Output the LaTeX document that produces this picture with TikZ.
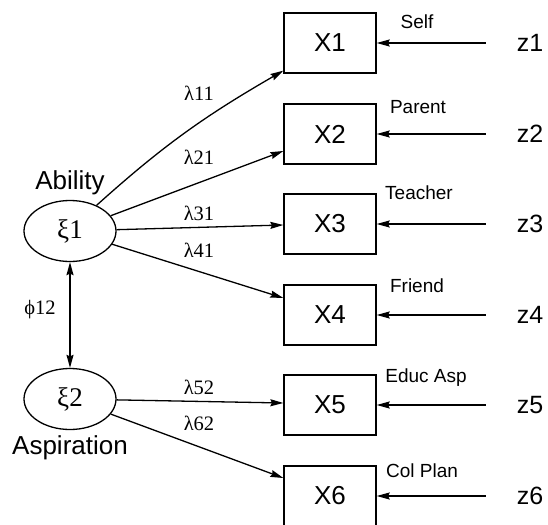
\documentclass[tikz,border=0pt]{standalone}
\usepackage{fontspec}
\setmainfont{Liberation Sans}
\newfontfamily\grk{Liberation Serif}
\usetikzlibrary{arrows.meta,shapes.geometric}
\begin{document}
\begin{tikzpicture}[x=1pt,y=1pt,
  box/.style={draw,line width=1.3pt,minimum width=92pt,minimum height=60pt,inner sep=0pt,font=\fontsize{26}{30}\selectfont},
  lat/.style={draw,ellipse,line width=1.3pt,minimum width=92pt,minimum height=61pt,inner sep=0pt,font=\grk\fontsize{27}{30}\selectfont},
  big/.style={font=\fontsize{26}{30}\selectfont,inner sep=0pt},
  zlab/.style={font=\fontsize{25}{28}\selectfont,inner sep=0pt},
  small/.style={font=\fontsize{19}{22}\selectfont,inner sep=0pt},
  coef/.style={font=\grk\fontsize{20.5}{24}\selectfont,inner sep=0pt},
  arr/.style={line width=1.3pt,-{Stealth[length=13pt,width=7pt,inset=1.5pt]}},
  darr/.style={line width=1.3pt,{Stealth[length=13pt,width=7pt,inset=1.5pt]}-{Stealth[length=13pt,width=7pt,inset=1.5pt]}},
]
\useasboundingbox (0,0) rectangle (548,-524);

% observed variables
\node[box] (X1) at (330,-43)  {X1};
\node[box] (X2) at (330,-134) {X2};
\node[box] (X3) at (330,-224) {X3};
\node[box] (X4) at (330,-315) {X4};
\node[box] (X5) at (330,-405) {X5};
\node[box] (X6) at (330,-496) {X6};

% latent variables
\node[lat] (e1) at (70,-231) {ξ1};
\node[lat] (e2) at (70,-399) {ξ2};
\node[big] (abil) at (70,-183) {Ability};
\node[big] (asp)  at (70,-448) {Aspiration};

% error terms
\node[zlab] (z1) at (530,-43)  {z1};
\node[zlab] (z2) at (530,-134) {z2};
\node[zlab] (z3) at (530,-224) {z3};
\node[zlab] (z4) at (530,-315) {z4};
\node[zlab] (z5) at (530,-405) {z5};
\node[zlab] (z6) at (530,-496) {z6};

% source labels
\node[small] (s1) at (417,-22)  {Self};
\node[small] (s2) at (418,-107) {Parent};
\node[small] (s3) at (419,-193) {Teacher};
\node[small] (s4) at (417,-286) {Friend};
\node[small] (s5) at (426,-378) {Educ Asp};
\node[small] (s6) at (422,-471) {Col Plan};

% coefficients
\node[coef] (l11) at (199,-93)  {λ11};
\node[coef] (l21) at (199,-157) {λ21};
\node[coef] (l31) at (199,-213) {λ31};
\node[coef] (l41) at (199,-250) {λ41};
\node[coef] (l52) at (199,-387) {λ52};
\node[coef] (l62) at (199,-423) {λ62};
\node[coef] (phi) at (40,-310)  {ϕ12};

% loadings
\draw[arr] (e1.44) to[out=42,in=210] ([yshift=3pt]X1.south west);
\draw[arr] (e1) -- ([yshift=-17pt]X2.west);
\draw[arr] (e1) -- ([yshift=-1pt]X3.west);
\draw[arr] (e1) -- ([yshift=17pt]X4.west);
\draw[arr] (e2) -- ([yshift=2pt]X5.west);
\draw[arr] (e2) -- ([yshift=18pt]X6.west);

% correlation
\draw[darr] (e1) -- (e2);

% errors
\draw[arr] ([xshift=-31pt]z1.west) -- (X1.east);
\draw[arr] ([xshift=-31pt]z2.west) -- (X2.east);
\draw[arr] ([xshift=-31pt]z3.west) -- (X3.east);
\draw[arr] ([xshift=-31pt]z4.west) -- (X4.east);
\draw[arr] ([xshift=-31pt]z5.west) -- (X5.east);
\draw[arr] ([xshift=-31pt]z6.west) -- (X6.east);
\end{tikzpicture}
\end{document}
